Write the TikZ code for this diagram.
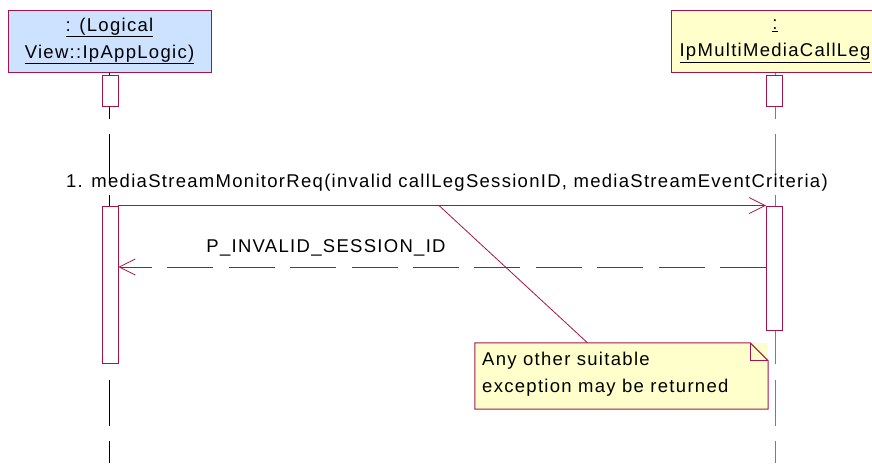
\documentclass[tikz,border=0pt]{standalone}
\usepackage{fontspec}
\setmainfont{Liberation Sans}[LetterSpace=7]
\usetikzlibrary{positioning,arrows.meta,calc}

\definecolor{roseline}{RGB}{165,20,75}
\definecolor{roseblue}{RGB}{204,226,255}
\definecolor{roseyellow}{RGB}{255,255,204}
\definecolor{lifegrey}{RGB}{125,125,125}

\tikzset{
  objbox/.style={draw=roseline, line width=1pt, minimum height=62pt,
    align=center, inner sep=0pt},
  actbar/.style={draw=roseline, fill=white, line width=0.9pt,
    minimum width=16pt, inner sep=0pt},
  lifeline/.style={line width=1pt, dash pattern=on 46pt off 15.4pt},
  msg/.style={roseline, line width=0.8pt,
    -{Straight Barb[length=16pt,width=16pt,line width=0.8pt]}},
  retmsg/.style={msg, dash pattern=on 46pt off 15.4pt},
  msglabel/.style={anchor=base, inner sep=0pt},
  notebox/.style={fill=roseyellow, minimum width=293pt, minimum height=66pt,
    inner sep=0pt}
}

\begin{document}
\begin{tikzpicture}[x=1pt, y=-1pt, font=\fontsize{18.5pt}{27pt}\selectfont]
  \useasboundingbox (0,0) rectangle (872,463);
  \coordinate (bottom) at (0,463);

  % objects
  \node[objbox, fill=roseblue, minimum width=203pt] (logic) at (109.5,41)
    {\underline{: (Logical}\\\underline{View::IpAppLogic)}};
  \node[objbox, fill=roseyellow, minimum width=208pt] (leg) at (775,41)
    {\underline{:}\\\underline{IpMultiMediaCallLeg}};

  % lifelines
  \draw[lifeline] (logic.south) -- (logic.south |- bottom);
  \draw[lifeline, lifegrey] (leg.south) -- (leg.south |- bottom);

  % activations
  \node[actbar, minimum height=31pt] (logicTop) at (110,90.5) {};
  \node[actbar, minimum height=31pt] (legTop) at (774.5,90.5) {};
  \node[actbar, minimum height=157pt] (logicAct) at (110,284.5) {};
  \node[actbar, minimum height=124pt] (legAct) at (774.5,268) {};

  % messages
  \draw[msg] (logicAct.north east) -- (legAct.north west);
  \node[msglabel] (reqlabel) at (447,187)
    {1. mediaStreamMonitorReq(invalid callLegSessionID, mediaStreamEventCriteria)};

  \coordinate (ret) at (0,267);
  \draw[retmsg] (legAct.west |- ret) -- (logicAct.east |- ret);
  \node[msglabel] (retlabel) at (326,252) {P\_INVALID\_SESSION\_ID};

  % note
  \node[notebox] (note) at (621.5,376) {};
  \draw[roseline, line width=1pt]
    (note.north west) -- ($(note.north east)+(-18,0)$)
    -- ($(note.north east)+(0,18)$) -- (note.south east)
    -- (note.south west) -- cycle;
  \draw[roseline, line width=1pt]
    ($(note.north east)+(-18,0)$) -- ($(note.north east)+(-18,18)$)
    -- ($(note.north east)+(0,18)$);
  \node[anchor=base west, inner sep=0pt, align=left] (notetext) at (482,392)
    {Any other suitable\\exception may be returned};

  \coordinate (msganchor) at ($(logicAct.north east)!0.495!(legAct.north west)$);
  \draw[roseline, line width=0.8pt]
    (msganchor) -- ($(note.north west)!0.384!(note.north east)$);
\end{tikzpicture}
\end{document}
